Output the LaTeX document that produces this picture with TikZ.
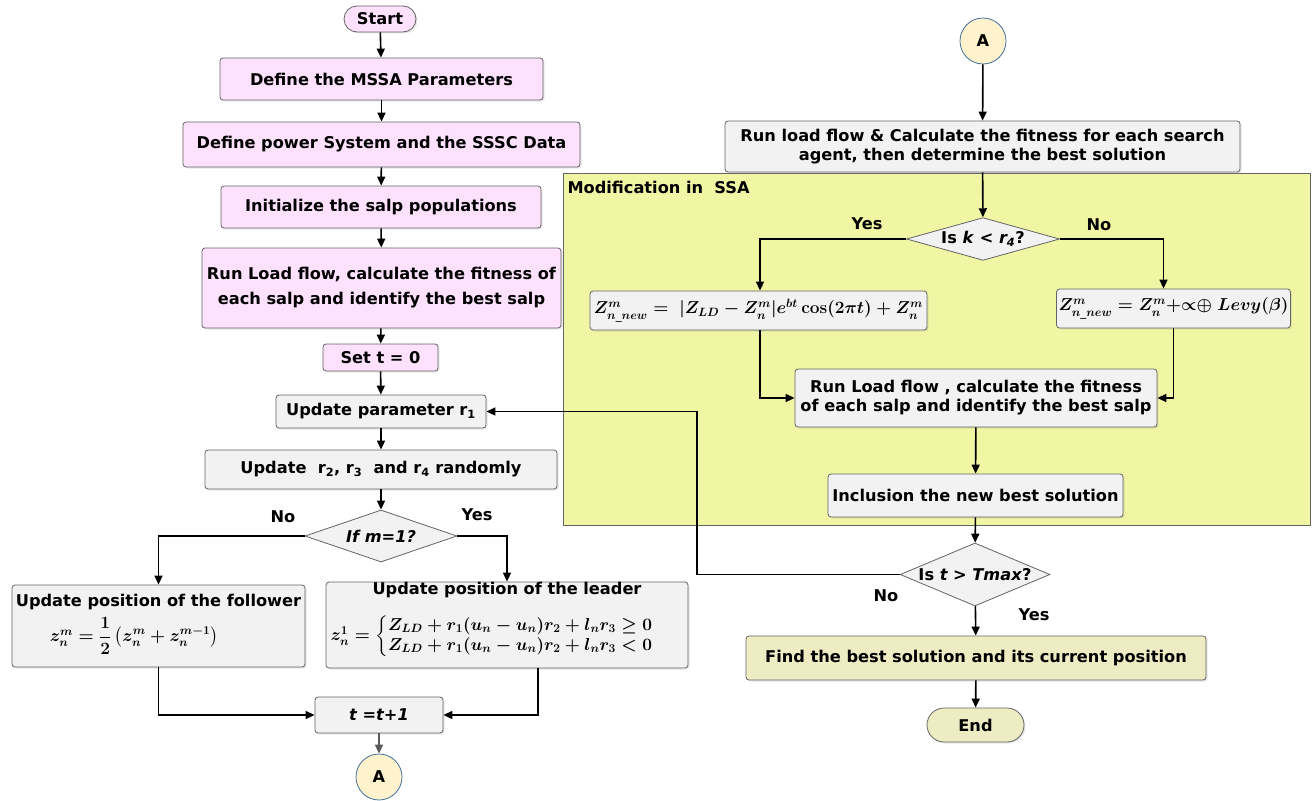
\documentclass[tikz,border=0pt]{standalone}
\usepackage[no-math]{fontspec}
\setmainfont{DejaVu Sans}
\usepackage{amsmath,amssymb}
\usetikzlibrary{shapes.geometric,arrows.meta,calc,shadows}
\definecolor{pinkf}{RGB}{253,225,253}
\definecolor{grayf}{RGB}{242,242,242}
\definecolor{bord}{RGB}{100,100,100}
\definecolor{yelf}{RGB}{240,246,163}
\definecolor{khaki}{RGB}{238,236,195}
\definecolor{circf}{RGB}{255,242,204}
\definecolor{circb}{RGB}{65,113,156}
\begin{document}
\begin{tikzpicture}[x=1pt,y=-1pt,
  every node/.style={font=\fontsize{16.2}{19}\selectfont\bfseries},
  basebox/.style={draw=bord, line width=0.8pt, rounded corners=3pt, inner sep=2pt, align=center,
     drop shadow={opacity=0.18, shadow xshift=1.5pt, shadow yshift=-1.5pt}},
  pinkbox/.style={basebox, fill=pinkf},
  graybox/.style={basebox, fill=grayf},
  khakibox/.style={basebox, fill=khaki},
  term/.style={draw=bord, line width=0.8pt, rounded corners=13pt, align=center,
     drop shadow={opacity=0.18, shadow xshift=1.5pt, shadow yshift=-1.5pt}},
  decis/.style={diamond, aspect=3, draw=bord, line width=0.8pt, fill=grayf, inner sep=0pt},
  conn/.style={circle, draw=circb, line width=0.8pt, fill=circf, minimum size=46pt, inner sep=0pt},
  arr/.style={-{Triangle[length=9pt,width=8pt]}, line width=1.6pt, black},
  mth/.style={font=\fontsize{17}{20}\selectfont\mathversion{bold}},
  lab/.style={font=\fontsize{16.2}{19}\selectfont\bfseries}
]
\useasboundingbox (0,0) rectangle (1313,800);

% yellow region
\node[draw=bord, line width=0.6pt, fill=yelf, minimum width=747pt, minimum height=352pt, inner sep=0pt] (reg) at (936.5,349) {};
\node[anchor=west] (modt) at (564,187) {Modification in\ \ SSA};

% left column
\node[term, fill=pinkf, minimum width=72pt, minimum height=26pt, inner sep=0pt] (start) at (380,19) {Start};
\node[pinkbox, minimum width=323pt, minimum height=42pt] (b1) at (381.5,79) {Define the MSSA Parameters};
\node[pinkbox, minimum width=397pt, minimum height=45pt] (b2) at (381.5,144.5) {Define power System and the SSSC Data};
\node[pinkbox, minimum width=320pt, minimum height=42pt] (b3) at (381,207) {Initialize the salp populations};
\node[pinkbox, minimum width=359pt, minimum height=80pt] (b4) at (381.5,288) {Run Load flow, calculate the fitness of\\[6pt]each salp and identify the best salp};
\node[pinkbox, minimum width=115pt, minimum height=27pt] (b5) at (380.5,357.5) {Set t = 0};
\node[graybox, minimum width=210pt, minimum height=33pt] (r1) at (381,411.5) {Update parameter r\textsubscript{1}};
\node[graybox, minimum width=352pt, minimum height=39pt] (b7) at (381,469.5) {Update\ \ r\textsubscript{2}, r\textsubscript{3}\ \ and r\textsubscript{4} randomly};
\node[decis, minimum width=152pt, minimum height=52pt] (dm) at (381,536) {\itshape If m=1?};
\node[lab] (no1) at (283,517) {No};
\node[lab] (yes1) at (477,515) {Yes};

\node[graybox, minimum width=293pt, minimum height=82pt] (fol) at (158.5,626) {};
\node[inner sep=1pt] (folt) at (158.5,602) {Update position of the follower};
\node[mth, inner sep=1pt] (fole) at (134,636) {$z_n^m=\displaystyle\frac{1}{2}\left(z_n^m+z_n^{m-1}\right)$};

\node[graybox, minimum width=362pt, minimum height=86pt] (lead) at (507,625) {};
\node[inner sep=1pt] (leadt) at (507,590) {Update position of the leader};
\node[mth, inner sep=0pt] (leade) at (492,636) {$z_n^1=\left\{\begin{array}{@{}l@{}}Z_{LD}+r_1(u_n-u_n)r_2+l_nr_3\ge 0\\ Z_{LD}+r_1(u_n-u_n)r_2+l_nr_3<0\end{array}\right.$};

\node[graybox, minimum width=128pt, minimum height=36pt] (tt) at (379,715) {\itshape t =t+1};
\node[conn] (A2) at (379,777) {A};

% right column
\node[conn] (A1) at (983,41) {A};
\node[graybox, minimum width=515pt, minimum height=51pt] (rf) at (982.5,146.5) {Run load flow \& Calculate the fitness for each search\\agent, then determine the best solution};
\node[decis, minimum width=153pt, minimum height=42pt] (dk) at (983,239) {Is \textit{k} < \textit{r\textsubscript{4}}?};
\node[lab] (yes2) at (867,224) {Yes};
\node[lab] (no2) at (1099,225) {No};
\node[graybox, mth, minimum width=337pt, minimum height=39pt] (eqL) at (758.5,310.5) {$Z^m_{n\_new}=\ |Z_{LD}-Z^m_n|e^{bt}\cos(2\pi t)+Z^m_n$};
\node[graybox, mth, minimum width=233pt, minimum height=39pt] (eqR) at (1173.5,308.5) {$Z^m_{n\_new}=Z^m_n{+}{\propto}{\oplus}\ Levy(\beta)$};
\node[graybox, minimum width=362pt, minimum height=58pt] (rl) at (976,398) {Run Load flow , calculate the fitness\\of each salp and identify the best salp};
\node[graybox, minimum width=295pt, minimum height=43pt] (inc) at (975.5,495.5) {Inclusion the new best solution};
\node[decis, minimum width=144pt, minimum height=63pt] (dt) at (975,574.5) {Is \textit{t > Tmax}?};
\node[lab] (no3) at (886,596) {No};
\node[lab] (yes3) at (1034,615) {Yes};
\node[khakibox, minimum width=460pt, minimum height=44pt] (find) at (976,658) {Find the best solution and its current position};
\node[term, fill=khaki, minimum width=97pt, minimum height=34pt, inner sep=0pt, rounded corners=17pt] (end) at (975.5,725) {End};

% connectors left
\draw[arr] (start) -- (b1);
\draw[arr] (b1) -- (b2);
\draw[arr] (b2) -- (b3);
\draw[arr] (b3) -- (b4);
\draw[arr] (b4) -- (b5);
\draw[arr] (b5) -- (r1);
\draw[arr] (r1) -- (b7);
\draw[arr] (b7) -- (dm);
\draw[arr] (dm.west) -| (fol.north);
\draw[arr] (dm.east) -| (lead.north);
\draw[arr] (fol.south) |- (tt.west);
\draw[arr] ([xshift=31pt]lead.south) |- (tt.east);
\draw[arr, draw=black!65, -{Triangle[length=9pt,width=8pt]}] (tt) -- (A2);

% connectors right
\draw[arr] (A1) -- (rf);
\draw[arr] (rf) -- (dk);
\draw[arr] (dk.west) -| ([xshift=1.5pt]eqL.north);
\draw[arr] (dk.east) -| ([xshift=-10pt]eqR.north);
\draw[arr] ([xshift=1.5pt]eqL.south) |- (rl.west);
\draw[arr] (eqR.south) |- (rl.east);
\draw[arr] (rl) -- (inc);
\draw[arr] (inc) -- (dt);
\draw[arr] (dt.west) -| (697,480) |- (r1.east);
\draw[arr] (dt) -- (find);
\draw[arr] (find) -- (end);
\end{tikzpicture}
\end{document}
